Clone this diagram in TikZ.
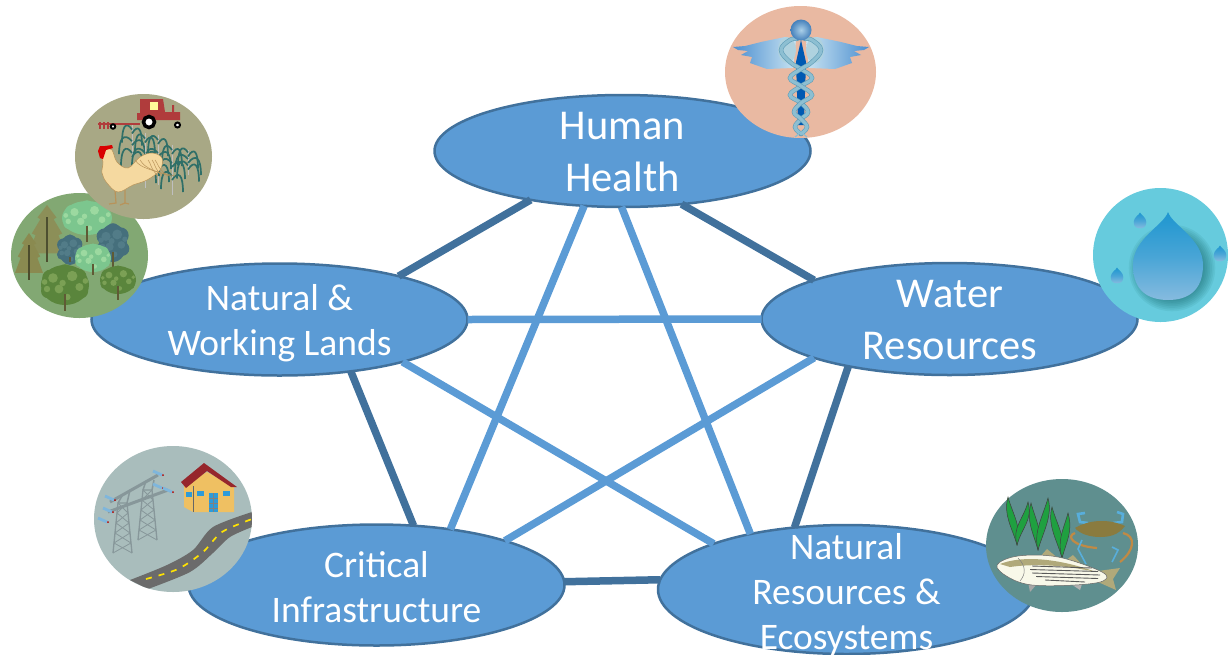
\documentclass[tikz,border=0pt]{standalone}
\usepackage{fontspec}
\setmainfont{Carlito}
\usetikzlibrary{shapes.geometric}
\definecolor{ellfill}{HTML}{5B9BD5}
\definecolor{elldark}{HTML}{41719C}
\definecolor{bgforest}{HTML}{82A873}
\definecolor{bgfarm}{HTML}{A8A885}
\definecolor{bghealth}{HTML}{E9B9A2}
\definecolor{bgwater}{HTML}{66CBDD}
\definecolor{bginfra}{HTML}{A9BDBC}
\definecolor{bgeco}{HTML}{5F8F8F}
\definecolor{conA}{HTML}{8C8F58}
\definecolor{conB}{HTML}{8A8A50}
\definecolor{lgA}{HTML}{7CC68E}
\definecolor{lgB}{HTML}{9CD9A0}
\definecolor{bdA}{HTML}{456F7C}
\definecolor{bdB}{HTML}{527C88}
\definecolor{ggA}{HTML}{5A853C}
\definecolor{ggB}{HTML}{7BA055}
\definecolor{trunk}{HTML}{5F5A35}
\definecolor{cornc}{HTML}{2F6F68}
\definecolor{hen}{HTML}{F5D9A0}
\definecolor{henl}{HTML}{B8935A}
\definecolor{tract}{HTML}{B03C3C}
\definecolor{winga}{HTML}{4D8FD0}
\definecolor{wingb}{HTML}{C9E4F2}
\definecolor{helixc}{HTML}{8DBFD2}
\definecolor{helixd}{HTML}{5F9DB8}
\definecolor{towerc}{HTML}{87979A}
\definecolor{insul}{HTML}{7FB6DC}
\definecolor{roadc}{HTML}{6B6B6B}
\definecolor{wall}{HTML}{EFC062}
\definecolor{roofc}{HTML}{96262C}
\definecolor{winc}{HTML}{2E9BD8}
\definecolor{gras}{HTML}{1FA040}
\definecolor{crabb}{HTML}{8A7B3F}
\definecolor{crabo}{HTML}{C08A45}
\definecolor{crabc}{HTML}{58AEDB}
\definecolor{finc}{HTML}{B0A97A}
\definecolor{dropt}{HTML}{1E96D0}
\definecolor{dropb}{HTML}{86BBDF}
\tikzset{
  topic/.style={ellipse,draw=elldark,fill=ellfill,line width=2.5pt,inner sep=0pt,outer sep=0pt,minimum width=376pt,minimum height=112pt},
  lab/.style={text=white,align=center,inner sep=0pt},
  big/.style={lab,font=\fontsize{42.5}{52}\selectfont},
  small/.style={lab,font=\fontsize{37.5}{45}\selectfont},
  darkedge/.style={draw=elldark,line width=7.5pt},
  lightedge/.style={draw=ellfill,line width=7.5pt}
}
\newcommand{\leafy}[7]{% x y rx ry colour light trunkbottom
  \draw[line width=1.8pt,color=trunk] (#1,#2) -- (#1,#7);
  \fill[#5] (#1,#2) ellipse (#3pt and #4pt);
  \foreach \dx/\dy/\rr in {-0.6/-0.35/0.42,0.55/-0.4/0.42,-0.7/0.3/0.36,0.65/0.3/0.38,0/0.55/0.38,0/-0.7/0.34}{
    \fill[#5] ({#1+\dx*#3},{#2+\dy*#4}) circle ({\rr*#4*1pt});
  }
  \foreach \dx/\dy/\rr in {-0.5/-0.35/0.24,0.3/-0.45/0.26,0.6/0.1/0.2,-0.25/0.2/0.22,-0.75/0.2/0.16,0.1/0.6/0.16,-0.1/-0.1/0.16,0.85/-0.2/0.14,-0.85/-0.15/0.14}{
    \fill[#6] ({#1+\dx*#3},{#2+\dy*#4}) circle ({\rr*#4*1pt});
  }
  \draw[line width=1.6pt,color=trunk] (#1,{#2+0.45*#4}) -- (#1,#7);
}
\newcommand{\conifer}[5]{% x top base halfwidth colour
  \fill[#5] (#1,#2) -- ({#1+0.5*#4},{#2+0.22*(#3-#2)}) -- ({#1+0.35*#4},{#2+0.25*(#3-#2)})
    -- ({#1+0.8*#4},{#2+0.5*(#3-#2)}) -- ({#1+0.6*#4},{#2+0.53*(#3-#2)})
    -- ({#1+#4},{#2+0.85*(#3-#2)}) -- ({#1-#4},{#2+0.85*(#3-#2)})
    -- ({#1-0.6*#4},{#2+0.53*(#3-#2)}) -- ({#1-0.8*#4},{#2+0.5*(#3-#2)})
    -- ({#1-0.35*#4},{#2+0.25*(#3-#2)}) -- ({#1-0.5*#4},{#2+0.22*(#3-#2)}) -- cycle;
  \draw[line width=1.5pt,color=#5!55!black] (#1,{#2+12}) -- (#1,#3);
}
\newcommand{\corn}[3]{% x top bottom
  \draw[line width=1pt,color=gray!50!white] (#1,#2) -- (#1,#3);
  \foreach \f/\w in {0.1/10,0.36/13,0.62/11}{
    \draw[line width=1.7pt,color=cornc] (#1,{#2+\f*(#3-#2)})
      .. controls ({#1-0.6*\w},{#2+\f*(#3-#2)-9}) and ({#1-\w},{#2+\f*(#3-#2)-3}) .. ({#1-\w},{#2+\f*(#3-#2)+13});
    \draw[line width=1.7pt,color=cornc] (#1,{#2+\f*(#3-#2)+4})
      .. controls ({#1+0.6*\w},{#2+\f*(#3-#2)-6}) and ({#1+\w},{#2+\f*(#3-#2)-1}) .. ({#1+\w},{#2+\f*(#3-#2)+16});
  }
}
\newcommand{\blade}[4]{% base, tip
  \filldraw[fill=gras,draw=black!75,line width=.5pt] (#1,#2)
    .. controls ({#1-5},{#2-18}) and ({#3-5},{#4+18}) .. (#3,#4)
    .. controls ({#3+5},{#4+18}) and ({#1+5},{#2-18}) .. (#1,#2) -- cycle;
}
\newcommand{\waterdrop}[4]{% x y(circle centre) radius, tip height
  \shade[top color=dropt,bottom color=dropb,middle color=dropt!60!dropb]
    (#1,{#2-#4}) .. controls ({#1+0.12*#3},{#2-0.75*#4}) and ({#1+#3},{#2-0.5*#4}) .. ({#1+#3},#2)
    .. controls ({#1+#3},{#2+0.75*#3}) and ({#1+0.55*#3},{#2+#3}) .. (#1,{#2+#3})
    .. controls ({#1-0.55*#3},{#2+#3}) and ({#1-#3},{#2+0.75*#3}) .. ({#1-#3},#2)
    .. controls ({#1-#3},{#2-0.5*#4}) and ({#1-0.12*#3},{#2-0.75*#4}) .. (#1,{#2-#4}) -- cycle;
}
\newcommand{\pylon}[6]{% base left, base right, base y, top left, top right, top y
  \draw[towerc,line width=1.3pt] (#1,#3) -- (#4,#6) -- (#5,#6) -- (#2,#3);
  \foreach \t in {0,0.2,0.4,0.6,0.8}{
    \draw[towerc,line width=.8pt] ({#1+(#4-#1)*\t},{#3+(#6-#3)*\t}) -- ({#2+(#5-#2)*(\t+.2)},{#3+(#6-#3)*(\t+.2)});
    \draw[towerc,line width=.8pt] ({#2+(#5-#2)*\t},{#3+(#6-#3)*\t}) -- ({#1+(#4-#1)*(\t+.2)},{#3+(#6-#3)*(\t+.2)});
  }
}
\begin{document}
\begin{tikzpicture}[x=1pt,y=-1pt]
\useasboundingbox (0,0) rectangle (1228,654);

\node[topic] (hh) at (622.5,151) {};
\node[topic] (nw) at (279.5,319.5) {};
\node[topic] (wr) at (949.5,319) {};
\node[topic,minimum height=121pt] (ci) at (376.5,585) {};
\node[topic,minimum width=377pt,minimum height=129pt] (nr) at (846.5,589.5) {};
\path[darkedge] (hh.208) -- (nw.20);
\path[darkedge] (hh.-42) -- (wr.164);
\path[darkedge] (nw.-36) -- (ci.58.7);
\path[darkedge] (wr.205) -- (nr.130.7);
\path[darkedge] (ci.1.7) -- (nr.177);
\path[lightedge] (nw.0.5) -- (wr.180);
\path[lightedge] (hh.235) -- (ci.37);
\path[lightedge] (hh.269) -- (nr.150);
\path[lightedge] (nw.-19) -- (nr.161.2);
\path[lightedge] (wr.196) -- (ci.19.2);

\node[big] (hhl) at (622.5,152) {Human\\Health};
\node[big] (wrl) at (950,320) {Water\\Resources};
\node[small] (nwl) at (279.5,323) {Natural \&\\Working Lands};
\node[small] (cil) at (376.5,587) {Critical\\Infrastructure};
\node[small] (nrl) at (846.5,594.5) {Natural\\Resources \&\\Ecosystems};

% ---- forest icon
\fill[bgforest] (79.5,255.5) ellipse (68.5pt and 62.5pt);
\conifer{47}{205}{262}{19}{conA}
\conifer{29}{233}{280}{14}{conB}
\leafy{87}{218}{25}{17}{lgA}{lgB}{242}
\leafy{70}{250}{11}{15}{bdA}{bdB}{262}
\leafy{113}{243}{14}{19}{bdA}{bdB}{268}
\leafy{93}{258}{18}{14}{lgA}{lgB}{275}
\leafy{65}{285}{24}{20}{ggA}{ggB}{311}
\leafy{118}{280}{18}{14}{ggA}{ggB}{300}

% ---- farm icon
\fill[bgfarm] (143.5,156.5) ellipse (68.5pt and 62.5pt);
\foreach \x/\t/\b in {132/125/170,145/133/188,158/135/185,172/145/195,188/150/175}{\corn{\x}{\t}{\b}}
\fill[tract] (140,99) -- (163,99) -- (165,112) -- (172,112) -- (172,105) -- (174,105) -- (174,112) -- (180,112) -- (180,120) -- (137,120) -- (137,113) -- (140,113) -- cycle;
\fill[yellow!40!white] (150,102) rectangle (158,110);
\fill[tract] (98,122.5) rectangle (140,125);
\foreach \x in {99,103,107}{\fill[tract] (\x,122) rectangle ({\x+1.5},129);}
\filldraw[fill=white,draw=black,line width=2pt] (113,126.5) circle (2.2pt);
\filldraw[fill=white,draw=black,line width=3.5pt] (149,122) circle (5.5pt);
\filldraw[fill=white,draw=black,line width=2pt] (177.5,125) circle (2.5pt);
\draw[line width=1.2pt,color=henl] (115,190) -- (116,203) -- (109,204);
\draw[line width=1.2pt,color=henl] (125,190) -- (125,203) -- (120,205) (125,203) -- (129,204);
\filldraw[fill=hen,draw=henl,line width=.5pt]
  plot[smooth cycle,tension=.6] coordinates {(100,153) (103,162) (102,173) (107,183) (118,192) (133,185) (147,180) (160,170) (162,158) (152,153) (140,157) (128,168) (117,162) (112,150) (105,148)};
\foreach \a/\b in {148/158,152/162,155/168,140/170,135/175}{\draw[henl,line width=.5pt] (\a,160) .. controls ({\a+3},163) and ({\a+2},168) .. (\b,176);}
\fill[red!85!black] (98,151) -- (100,146) -- (105,146) -- (112,145) -- (113,148) -- (106,150) -- (103,159) -- (100,158) -- cycle;

% ---- human health icon
\fill[bghealth] (800.5,72) ellipse (75.5pt and 66pt);
\shade[left color=winga,right color=wingb]
   (733,47) -- (745,46) -- (761,42) -- (785,37) -- (796,40) -- (793,68) -- (767,69) -- (750,63) -- (752,57) -- (741,55) -- (748,51) -- (738,50) -- cycle;
\shade[right color=winga,left color=wingb]
   (869,47) -- (857,46) -- (841,42) -- (817,37) -- (806,40) -- (809,68) -- (835,69) -- (852,63) -- (850,57) -- (861,55) -- (854,51) -- (864,50) -- cycle;
\fill[helixc!70!white] (787,50) ellipse (9pt and 13pt);
\fill[helixc!70!white] (815,50) ellipse (9pt and 13pt);
\fill[blue!50!cyan!70!black] (801,40) -- (806,62) -- (804,125) -- (798,125) -- (796,62) -- cycle;
\foreach \s in {1,-1}{
 \draw[color=helixd,line width=4.4pt,line cap=round]
  plot[smooth,tension=.7] coordinates {(801,134) ({801-\s*6},127) (801,119) ({801+\s*7},112) (801,103) ({801-\s*11},95) (801,86) ({801+\s*11},78) (801,69) ({801-\s*11},62) ({801-\s*20},50) ({801-\s*11},40) ({801-\s*4},39)};
 \draw[color=helixc,line width=3.2pt,line cap=round]
  plot[smooth,tension=.7] coordinates {(801,134) ({801-\s*6},127) (801,119) ({801+\s*7},112) (801,103) ({801-\s*11},95) (801,86) ({801+\s*11},78) (801,69) ({801-\s*11},62) ({801-\s*20},50) ({801-\s*11},40) ({801-\s*4},39)};
}
\draw[color=helixc,line width=1.2pt] (795,137) -- (801,132) -- (807,137);
\shade[inner color=dropb!70!white,outer color=winga!90!black] (801,30) circle (10.5pt);

% ---- water icon
\fill[bgwater] (1160.5,255) ellipse (67.5pt and 67pt);
\foreach \k in {1,...,8}{
  \fill[teal!60!black,opacity=0.07] (1172,268) circle ({(45-\k*1.7)*1pt});
}
\waterdrop{1168}{265}{35}{53}
\waterdrop{1140}{222}{6.3}{9.5}
\waterdrop{1220}{255}{6.3}{9.5}
\waterdrop{1117}{277}{6.3}{9.5}

% ---- infrastructure icon
\fill[bginfra] (173,519) ellipse (79pt and 73pt);
\begin{scope}
\clip (173,519) ellipse (79pt and 73pt);
\fill[roadc] plot[smooth,tension=.5] coordinates {(130,580) (167,565) (193,550) (213,527) (252,512)}
  -- (256,512) -- (256,527) -- plot[smooth,tension=.5] coordinates {(252,527) (230,537) (213,553) (190,572) (148,589)} -- cycle;
\draw[yellow!85!orange,line width=1.7pt,dash pattern=on 6pt off 7pt] plot[smooth,tension=.5] coordinates {(146,579) (178,569) (203,552) (222,532) (252,519)};
\end{scope}
\pylon{113}{132}{553}{118}{127}{503}
\pylon{138}{157}{540}{143}{152}{490}
\draw[towerc,line width=3pt] (110,502) -- (158,475);
\draw[towerc,line width=3pt] (108,512) -- (168,490);
\draw[towerc,line width=1.5pt] (118,503) -- (122,496) (127,503) -- (130,490) (143,490) -- (146,481) (152,490) -- (154,480);
\foreach \x/\y in {110/498,108/510,103/520,158/473,158/486,168/490}{
  \draw[insul,line width=2.8pt] ({\x-5},{\y-2}) -- ({\x+4},{\y+2});
  \fill[red!70!black] ({\x+5},{\y+2}) circle (1pt);
}
\fill[wall] (184,485) -- (207,472) -- (234,487) -- (234,512) -- (193,512) -- (184,507) -- cycle;
\draw[black!60,line width=.4pt] (193,486) -- (193,512);
\fill[roofc] (181,482) -- (204,463) -- (237,487) -- (231,487) -- (207,471) -- (186,488) -- cycle;
\fill[winc] (209,493) rectangle (218,512);
\draw[black!50,line width=.2pt] (213.5,493) -- (213.5,512) (209,498) -- (218,498) (209,503) -- (218,503) (209,508) -- (218,508);
\fill[winc] (197,491) rectangle (204,496);
\fill[winc] (223,491) rectangle (230,496);
\fill[winc] (186,492) rectangle (192,497);

% ---- ecosystems icon
\fill[bgeco] (1062,545.5) ellipse (76pt and 66.5pt);
\blade{1017}{545}{1008}{497}
\blade{1017}{545}{1028}{502}
\blade{1038}{550}{1031}{503}
\blade{1038}{550}{1048}{498}
\blade{1062}{558}{1052}{507}
\blade{1062}{558}{1068}{513}
\draw[crabo,line width=2.2pt] (1075,533) .. controls (1066,536) and (1072,546) .. (1097,548);
\draw[crabo,line width=2.2pt] (1123,533) .. controls (1136,536) and (1135,550) .. (1120,562);
\draw[crabc,line width=1.6pt] (1082,540) -- (1078,549) -- (1086,564);
\draw[crabc,line width=1.6pt] (1112,547) -- (1118,550) -- (1112,562);
\draw[crabc,line width=2.6pt] (1088,523) -- (1080,522) -- (1078,514) -- (1085,513);
\draw[crabc,line width=2.6pt] (1113,523) -- (1122,522) -- (1123,514) -- (1117,512);
\fill[crabb] (1075,528) .. controls (1090,519) and (1110,519) .. (1125,526) .. controls (1118,535) and (1110,537) .. (1100,537) .. controls (1090,537) and (1080,534) .. (1075,528) -- cycle;
\fill[finc] (1038,559) -- (1047,549) -- (1060,560) -- cycle;
\fill[finc] (1062,563) -- (1073,555) -- (1085,568) -- cycle;
\fill[gray!70!white] (1028,582) -- (1030,592) -- (1037,584) -- cycle;
\fill[gray!60!white] (1068,582) -- (1080,590) -- (1083,581) -- cycle;
\fill[finc] (1098,571) -- (1120,568) -- (1113,579) -- (1116,590) -- (1098,582) -- cycle;
\filldraw[fill=white!94!olive,draw=black!60,line width=.5pt] plot[smooth cycle,tension=.6] coordinates {(997,565) (1018,556) (1058,557) (1102,572) (1103,581) (1075,585) (1032,585) (1008,577)};
\fill[finc] (1000,564) .. controls (1020,556) and (1055,557) .. (1096,572) .. controls (1060,564) and (1030,564) .. (1010,567) -- cycle;
\foreach \y/\a/\b in {566/1032/1092,569.5/1030/1098,573/1032/1100,576.5/1036/1098,580/1045/1085}{
  \draw[black!65,line width=.9pt] (\a,\y) -- (\b,\y+2);
}
\draw[black!50,line width=.5pt] (1018,558) .. controls (1026,566) and (1026,574) .. (1020,581);
\end{tikzpicture}
\end{document}
